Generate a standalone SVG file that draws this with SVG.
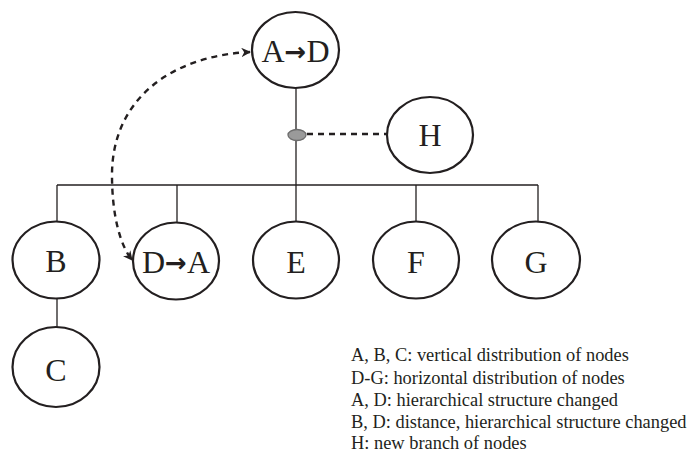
<svg xmlns="http://www.w3.org/2000/svg" width="692" height="453" viewBox="0 0 692 453">
  <style>
    .node { fill: #fff; stroke: #231f20; stroke-width: 2.2; }
    .lbl { font-family: "Liberation Serif", "Times New Roman", serif; font-size: 32px; fill: #231f20; text-anchor: middle; }
    .arr { font-family: "DejaVu Sans", sans-serif; font-weight: bold; font-size: 26px; }
    .tree { fill: none; stroke: #231f20; stroke-width: 1.3; }
    .dash { fill: none; stroke: #231f20; stroke-width: 2.4; stroke-dasharray: 6 5; }
    .legend { font-family: "Liberation Serif", "Times New Roman", serif; font-size: 18.4px; fill: #231f20; }
  </style>
  <defs>
    <marker id="head" viewBox="0 0 10 10" refX="9" refY="5" markerWidth="4" markerHeight="4" orient="auto-start-reverse" markerUnits="strokeWidth">
      <path d="M0,0 L10,5 L0,10 L3,5 Z" fill="#231f20"/>
    </marker>
  </defs>

  <rect width="692" height="453" fill="#fff"/>

  <!-- connectors -->
  <g id="connectors">
    <line class="tree" x1="296" y1="88" x2="296" y2="185"/>
    <line class="tree" x1="57" y1="185" x2="538" y2="185"/>
    <line class="tree" x1="57" y1="185" x2="57" y2="222"/>
    <line class="tree" x1="177" y1="185" x2="177" y2="222"/>
    <line class="tree" x1="296" y1="185" x2="296" y2="222"/>
    <line class="tree" x1="416" y1="185" x2="416" y2="222"/>
    <line class="tree" x1="538" y1="185" x2="538" y2="222"/>
    <line class="tree" x1="57" y1="298" x2="57" y2="327"/>
    <line class="dash" x1="307" y1="134" x2="387" y2="134"/>
    <path class="dash" d="M250,52 C170,56 112,100 112,175 C112,215 120,245 132,260" marker-start="url(#head)" marker-end="url(#head)"/>
    <ellipse cx="297" cy="135" rx="9" ry="5.5" fill="#9a9a9a" stroke="#6d6d6d" stroke-width="1.3"/>
  </g>

  <g id="node-AD">
    <ellipse class="node" cx="295.5" cy="50" rx="43.5" ry="38"/>
    <text class="lbl" x="295.5" y="62">A<tspan class="arr" dy="-1">→</tspan><tspan dy="1">D</tspan></text>
  </g>
  <g id="node-H">
    <ellipse class="node" cx="430" cy="135" rx="43" ry="38"/>
    <text class="lbl" x="430" y="146">H</text>
  </g>
  <g id="node-B">
    <ellipse class="node" cx="56" cy="260" rx="43.5" ry="38.5"/>
    <text class="lbl" x="56" y="272">B</text>
  </g>
  <g id="node-DA">
    <ellipse class="node" cx="176" cy="261" rx="43" ry="38.5"/>
    <text class="lbl" x="176" y="273">D<tspan class="arr" dy="-1">→</tspan><tspan dy="1">A</tspan></text>
  </g>
  <g id="node-E">
    <ellipse class="node" cx="296" cy="260" rx="43" ry="38.5"/>
    <text class="lbl" x="296" y="273">E</text>
  </g>
  <g id="node-F">
    <ellipse class="node" cx="416" cy="260" rx="43" ry="38.5"/>
    <text class="lbl" x="416" y="273">F</text>
  </g>
  <g id="node-G">
    <ellipse class="node" cx="536" cy="260" rx="44" ry="38.5"/>
    <text class="lbl" x="536" y="273">G</text>
  </g>
  <g id="node-C">
    <ellipse class="node" cx="56" cy="367" rx="43.5" ry="40"/>
    <text class="lbl" x="56" y="381">C</text>
  </g>

  <g id="legend">
    <text class="legend" x="351" y="361">A, B, C: vertical distribution of nodes</text>
    <text class="legend" x="351" y="384">D-G: horizontal distribution of nodes</text>
    <text class="legend" x="351" y="406">A, D: hierarchical structure changed</text>
    <text class="legend" x="351" y="428">B, D: distance, hierarchical structure changed</text>
    <text class="legend" x="351" y="448.5">H: new branch of nodes</text>
  </g>
</svg>
